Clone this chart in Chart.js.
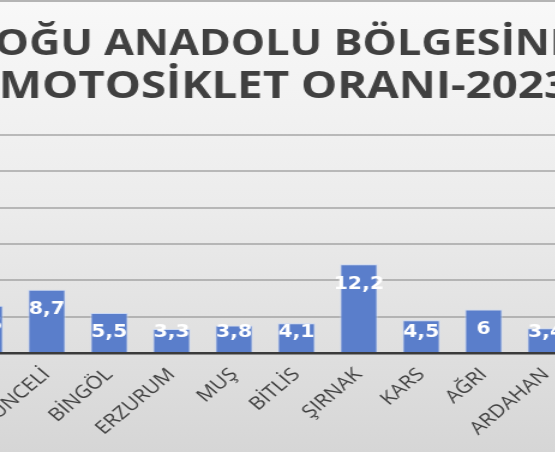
<!DOCTYPE html>
<html>
<head>
<meta charset="utf-8">
<script src="https://cdn.jsdelivr.net/npm/chart.js@4"></script>
<style>
    html, body { margin: 0; padding: 0; }
    #wrap {
        position: relative;
        width: 555px;
        height: 452px;
        overflow: hidden;
        box-sizing: border-box;
        border-top: 2px solid #b4b4b4;
        background: linear-gradient(#f8f8f8 0%, #ececec 45%, #d6d6d6 100%);
    }
    /* the source picture is stretched sideways, so the canvas is too */
    #chart {
        position: absolute;
        left: -150px;
        top: -2px;
        transform: scaleX(1.2);
        transform-origin: 0 0;
    }
</style>
</head>
<body>
<div id="wrap">
    <canvas id="chart" width="658" height="452"></canvas>
</div>
<script>
// the picture is cut at both sides: VAN and IĞDIR are only partly / not visible
const categories = ['VAN', 'TUNCELİ', 'BİNGÖL', 'ERZURUM', 'MUŞ', 'BİTLİS', 'ŞIRNAK', 'KARS', 'AĞRI', 'ARDAHAN', 'IĞDIR'];
const values = [6.5, 8.7, 5.5, 3.3, 3.8, 4.1, 12.2, 4.5, 6, 3.4, null];
const titleLine1 = 'DOĞU ANADOLU BÖLGESİNDE';
const titleLine2 = 'MOTOSİKLET ORANI-2023';

// value labels inside the bar top, like Excel "inside end"
const barLabels = {
    id: 'barLabels',
    afterDatasetsDraw(chart) {
        const ctx = chart.ctx;
        const meta = chart.getDatasetMeta(0);
        ctx.save();
        ctx.font = 'bold 17px "DejaVu Sans"';
        ctx.fillStyle = '#ffffff';
        ctx.textAlign = 'center';
        ctx.textBaseline = 'middle';
        meta.data.forEach((bar, i) => {
            if (values[i] == null) return;
            const y = Math.min(bar.y + 20, bar.base - 19);
            ctx.fillText(String(values[i]).replace('.', ','), bar.x, y);
        });
        ctx.restore();
    }
};

const ctx = document.getElementById('chart').getContext('2d');
new Chart(ctx, {
    type: 'bar',
    data: {
        labels: categories,
        datasets: [{
            data: values,
            backgroundColor: '#5a7ecb',
            borderColor: 'rgba(200, 215, 245, 0.9)',
            borderWidth: 1,
            categoryPercentage: 1,
            barPercentage: 0.6,
        }],
    },
    options: {
        responsive: false,
        animation: false,
        devicePixelRatio: 1,
        layout: { padding: { left: 66 } },
        plugins: {
            legend: { display: false },
            tooltip: { enabled: false },
            title: {
                display: true,
                text: titleLine1,
                color: '#404040',
                font: { family: 'Open Sans', size: 36, weight: 'bold', lineHeight: 1.167 },
                padding: { top: 24, bottom: 0 },
            },
            subtitle: {
                display: true,
                text: titleLine2,
                color: '#404040',
                font: { family: 'Open Sans', size: 38, weight: 'bold', lineHeight: 1.105 },
                padding: { top: 0, bottom: 27 },
            },
        },
        scales: {
            x: {
                grid: { display: false },
                border: { color: '#3a3a3a', width: 2.5 },
                ticks: {
                    color: '#404040',
                    font: { family: 'Open Sans', size: 18 },
                    minRotation: 45,
                    maxRotation: 45,
                    autoSkip: false,
                },
                afterFit(scale) { scale.height = 99; },
            },
            y: {
                min: 0,
                max: 30,
                ticks: { display: false, stepSize: 5 },
                border: { display: false },
                grid: { color: 'rgba(140, 140, 140, 0.55)', lineWidth: 2, drawTicks: false },
                afterFit(scale) { scale.width = 20; },
            },
        },
    },
    plugins: [barLabels],
});
</script>
</body>
</html>
